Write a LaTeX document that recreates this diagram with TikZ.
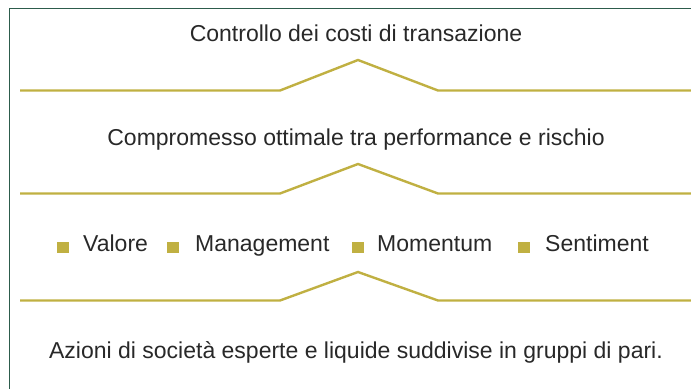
\documentclass[tikz,border=0pt]{standalone}
\usepackage{fontspec}
\setmainfont{Liberation Sans}
\definecolor{frame}{RGB}{45,92,76}
\definecolor{gold}{RGB}{192,176,66}
\definecolor{ink}{RGB}{40,40,40}
\tikzset{
  lbl/.style={inner sep=0pt,anchor=base,text=ink,font=\fontsize{23}{26}\selectfont},
  sq/.style={fill=gold,minimum width=12pt,minimum height=11pt,inner sep=0pt,anchor=south},
  sep/.style={gold,line width=2.4pt}
}
\begin{document}
\begin{tikzpicture}[x=1pt,y=-1pt]
        \useasboundingbox (0,0) rectangle (691,389);
        %%%%%%%% Cornice %%%%%%%%
        \draw[frame,line width=1.6pt] (691,8.5) -- (9.5,8.5) -- (9.5,389);

        %%%%%%%% Testi %%%%%%%%%
        \node[lbl] (costi) at (356,41) {Controllo dei costi di transazione};
        \node[lbl] (compromesso) at (356,145) {Compromesso ottimale tra performance e rischio};
        \node[lbl] (azioni) at (356,358) {Azioni di società esperte e liquide suddivise in gruppi di pari.};

        %%%%%%%% Fattori %%%%%%%%
        \node[sq] (q1) at (63,253) {};
        \node[lbl,anchor=base west] (valore) at (83,251) {Valore};
        \node[sq] (q2) at (173,253) {};
        \node[lbl,anchor=base west] (management) at (195,251) {Management};
        \node[sq] (q3) at (358,253) {};
        \node[lbl,anchor=base west] (momentum) at (377,251) {Momentum};
        \node[sq] (q4) at (524,253) {};
        \node[lbl,anchor=base west] (sentiment) at (545,251) {Sentiment};

        %%%%%%%% Separatori %%%%%%%%
        \draw[sep] (20,90.5) -- (280,90.5) -- (358,60) -- (438,90.5) -- (691,90.5);
        \draw[sep] (20,193.5) -- (280,193.5) -- (358,164) -- (438,193.5) -- (691,193.5);
        \draw[sep] (20,300.5) -- (280,300.5) -- (358,272) -- (438,300.5) -- (691,300.5);
\end{tikzpicture}
\end{document}
